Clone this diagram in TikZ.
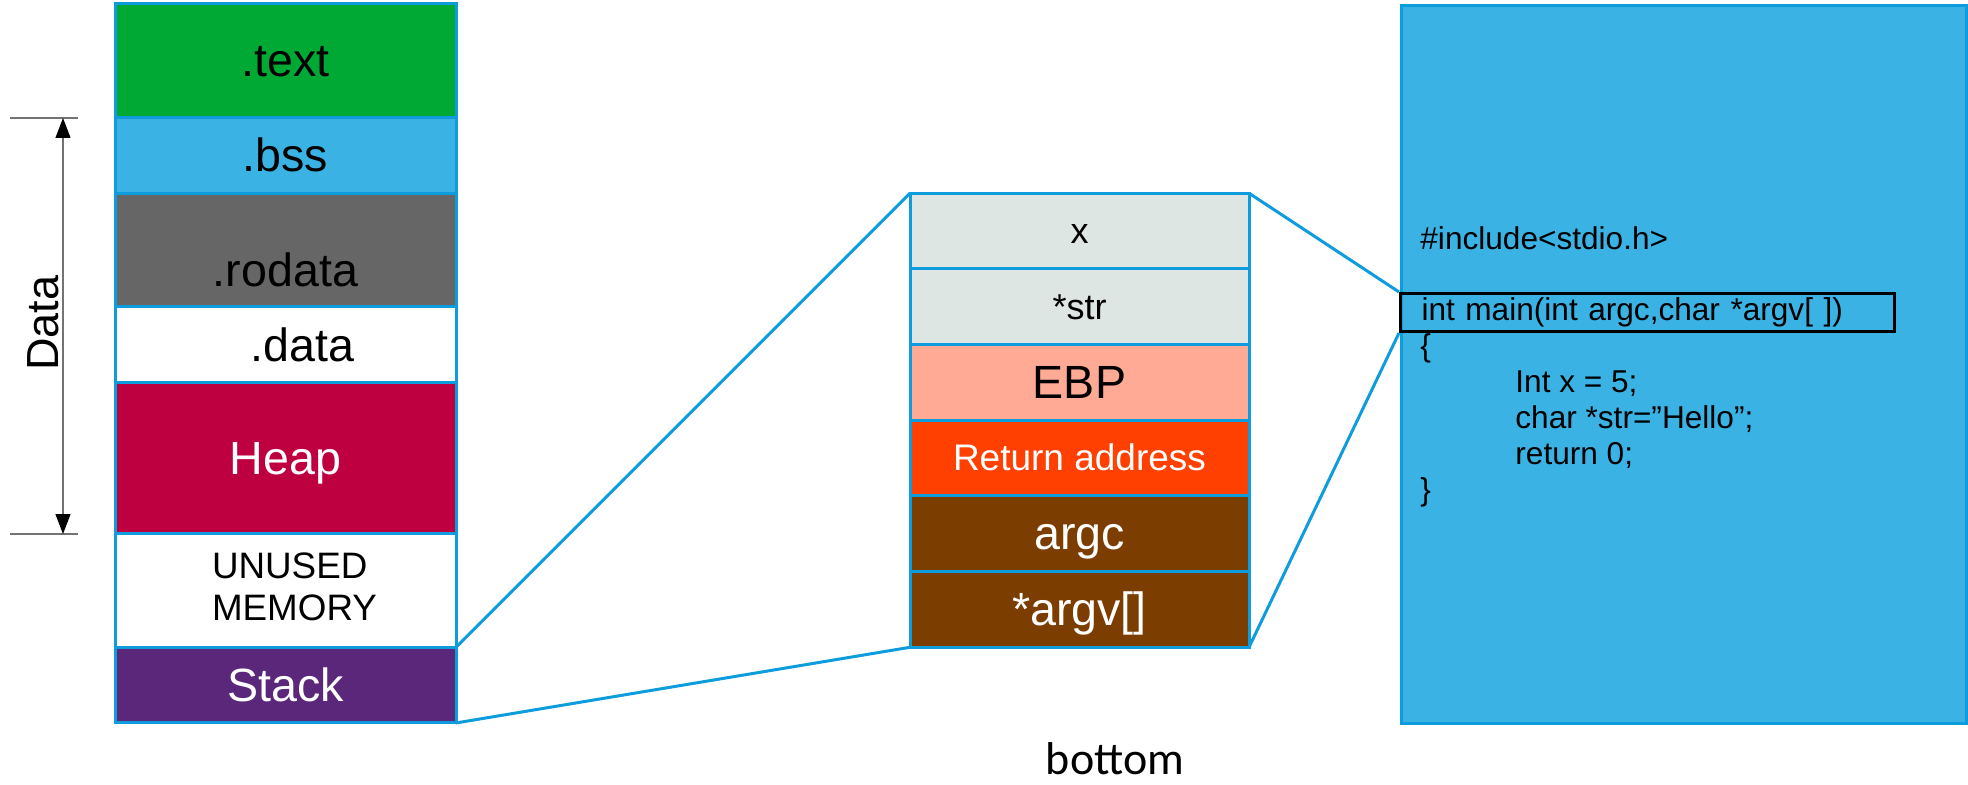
\documentclass[tikz,border=0pt]{standalone}
\usepackage{fontspec}
\setmainfont{Liberation Sans}
\newfontfamily\notefont{Carlito}
\usetikzlibrary{positioning, arrows.meta}

\definecolor{edgeblue}{HTML}{0E9CDD}
\definecolor{bssblue}{HTML}{3AB2E4}
\definecolor{textgreen}{HTML}{00A933}
\definecolor{rodatagray}{HTML}{666666}
\definecolor{heapred}{HTML}{BE0040}
\definecolor{stackpurple}{HTML}{5B277B}
\definecolor{varfill}{HTML}{DEE6E4}
\definecolor{ebpfill}{HTML}{FFAA95}
\definecolor{retfill}{HTML}{FF4000}
\definecolor{argbrown}{HTML}{7B3D00}

\tikzset{
    cellfont/.style={font=\fontsize{#1}{#1}\selectfont, text height=0.905*#1pt, text depth=0.212*#1pt},
    seg/.style={draw=edgeblue, line width=1.5pt, minimum width=170.5pt, inner sep=0pt, outer sep=0pt, cellfont=23.3},
    slot/.style={seg, minimum width=169.5pt, minimum height=37.84pt},
    link/.style={edgeblue, line width=1.5pt},
    dimline/.style={gray!90!black, line width=0.6pt},
    code/.style={anchor=base west, inner sep=0pt, font=\fontsize{15.8}{18}\selectfont},
}

\begin{document}
\begin{tikzpicture}[x=0.5pt, y=-0.5pt]
    \useasboundingbox (0,0) rectangle (1968,785);

    % memory layout
    \node[seg, fill=textgreen, minimum height=56.76pt, anchor=north west] (text) at (115,4) {.text};
    \node[seg, fill=bssblue, minimum height=37.84pt, below=0pt of text] (bss) {.bss};
    \node[seg, fill=rodatagray, minimum height=56.76pt, below=0pt of bss,
          label={[font=\fontsize{23.3}{26}\selectfont, yshift=-10pt]center:.rodata}] (rodata) {};
    \node[seg, fill=white, minimum height=37.84pt, below=0pt of rodata,
          label={[font=\fontsize{23.3}{26}\selectfont, xshift=8.5pt]center:.data}] (data) {};
    \node[seg, fill=heapred, text=white, minimum height=75.68pt, below=0pt of data] (heap) {Heap};
    \node[seg, fill=white, minimum height=56.76pt, below=0pt of heap,
          label={[font=\fontsize{18.4}{21}\selectfont, align=left, xshift=4.5pt, yshift=2pt]center:UNUSED\\MEMORY}] (unused) {};
    \node[seg, fill=stackpurple, text=white, minimum height=37.84pt, below=0pt of unused] (stack) {Stack};

    % data span
    \coordinate (dtopL) at (10,118);
    \coordinate (dtopR) at (78,118);
    \coordinate (dbotL) at (10,534);
    \coordinate (dbotR) at (78,534);
    \coordinate (dtop) at (63,118);
    \coordinate (dbot) at (63,534);
    \draw[dimline] (dtopL) -- (dtopR);
    \draw[dimline] (dbotL) -- (dbotR);
    \draw[dimline, {Triangle[length=10pt, width=7.5pt, color=black]}-{Triangle[length=10pt, width=7.5pt, color=black]}] (dtop) -- (dbot);
    \node[rotate=90, inner sep=0pt, font=\fontsize{22.5}{25}\selectfont] (datalabel) at (43,323) {Data};

    % stack frame
    \node[slot, fill=varfill, cellfont=18, anchor=north west] (x) at (910,193.2) {x};
    \node[slot, fill=varfill, cellfont=18, below=0pt of x] (str) {*str};
    \node[slot, fill=ebpfill, below=0pt of str] (ebp) {EBP};
    \node[slot, fill=retfill, text=white, cellfont=18.5, below=0pt of ebp] (ret) {Return address};
    \node[slot, fill=argbrown, text=white, below=0pt of ret] (argc) {argc};
    \node[slot, fill=argbrown, text=white, below=0pt of argc] (argv) {*argv[]};
    \node[font=\notefont\fontsize{23}{26}\selectfont, inner sep=0pt, anchor=base] (bottomlabel) at (1115,774) {bottom};

    % source code
    \node[draw=edgeblue, fill=bssblue, line width=1.5pt, minimum width=282.5pt, minimum height=359pt,
          inner sep=0pt, anchor=north west] (panel) at (1400,4) {};
    \node[code] (inc) at (1420,250) {\#include<stdio.h>};
    \node[draw=black, line width=1.5pt, anchor=north west, minimum height=19pt, text width=226pt,
          inner xsep=10.5pt, inner ysep=0pt, align=left, font=\fontsize{15.8}{18}\selectfont] (mainbox) at (1399,292)
          {int main(int argc,char *argv[ ])};
    \node[code] (open) at (1420,357) {\{};
    \node[code] (decl) at (1515,393) {Int x = 5;};
    \node[code] (assign) at (1515,429) {char *str=”Hello”;};
    \node[code] (ret0) at (1515,465) {return 0;};
    \node[code] (close) at (1420,501) {\}};

    % zoom lines
    \draw[link] (stack.north east) -- (x.north west);
    \draw[link] (stack.south east) -- (argv.south west);
    \draw[link] (x.north east) -- (mainbox.north west);
    \draw[link] (argv.south east) -- (mainbox.south west);
\end{tikzpicture}
\end{document}
